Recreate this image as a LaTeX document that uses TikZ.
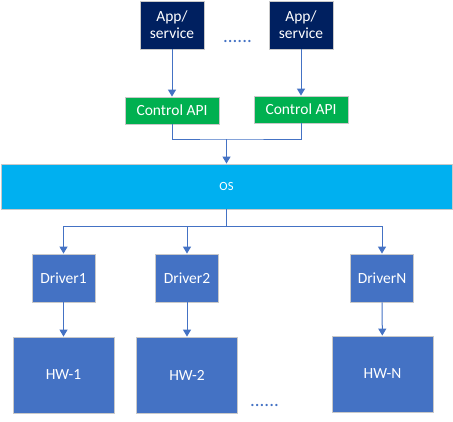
\documentclass[tikz,border=0pt]{standalone}
\usepackage{fontspec}
\setmainfont{Carlito}
\usetikzlibrary{arrows.meta}
\usetikzlibrary{positioning}
\definecolor{AppBlue}{HTML}{002060}
\definecolor{ApiGreen}{HTML}{00B050}
\definecolor{OsCyan}{HTML}{00B0F0}
\definecolor{HwBlue}{HTML}{4472C4}
\definecolor{EdgeGray}{HTML}{C9C9C9}

\begin{document}
\begin{tikzpicture}[x=1pt,y=-1pt]
		\tikzstyle{Box} = [draw=EdgeGray, line width=0.8pt, text=white, align=center, inner sep=0pt, font=\fontsize{15.5}{17}\selectfont]
		\tikzstyle{App} = [Box, fill=AppBlue, minimum width=64pt, minimum height=48pt]
		\tikzstyle{Api} = [Box, fill=ApiGreen, minimum width=94pt, minimum height=27pt]
		\tikzstyle{Driver} = [Box, fill=HwBlue, minimum width=63pt, minimum height=48pt]
		\tikzstyle{Hw} = [Box, fill=HwBlue, minimum width=101pt, minimum height=76pt]
		\tikzstyle{Line} = [HwBlue, line width=1pt]
		\tikzstyle{Arrow} = [Line, -{Triangle[width=8pt,length=7pt]}]
		\tikzstyle{Dots} = [HwBlue, inner sep=0pt, font=\fontsize{19}{19}\selectfont]

		\useasboundingbox (0,0) rectangle (453,421);

		%Draw applications
		\node[App] (A1) at (172,25){App/\\service};
		\node[App] (A2) at (301,25){App/\\service};
		\node[Dots] (TopDots) at (237.5,41.5){......};

		%Draw control APIs
		\node[Api] (C1) at (172,110.5){Control API};
		\node[Api] (C2) at (301,109.5){Control API};

		%Draw OS
		\node[Box, fill=OsCyan, minimum width=451pt, minimum height=45pt, font=\fontsize{12.5}{14}\selectfont] (OS) at (226.5,186.5){OS};

		%Draw drivers
		\node[Driver] (D1) at (63.5,278){Driver1};
		\node[Driver] (D2) at (187,278){Driver2};
		\node[Driver] (DN) at (382,278){DriverN};

		%Draw hardware
		\node[Hw] (H1) at (63.5,375){HW-1};
		\node[Hw] (H2) at (187,375){HW-2};
		\node[Hw] (HN) at (382.5,374){HW-N};
		\node[Dots] (BottomDots) at (264.5,405.5){......};

		%Draw connections
		\draw[Arrow] (A1) -- (C1);
		\draw[Arrow] (A2) -- (C2);

		\coordinate (Join) at (226.5,139);
		\draw[Line] (C1.south) |- (Join) -| (C2.south);
		\draw[Arrow] (Join) -- (OS.north);

		\coordinate (Split) at (226.5,226);
		\draw[Line] (OS.south) -- (Split);
		\draw[Arrow] (Split) -| (D1.north);
		\draw[Arrow] (Split) -| (D2.north);
		\draw[Arrow] (Split) -| (DN.north);

		\draw[Arrow] (D1) -- (H1);
		\draw[Arrow] (D2) -- (H2);
		\draw[Arrow] (DN) -- (HN);
	\end{tikzpicture}
\end{document}
